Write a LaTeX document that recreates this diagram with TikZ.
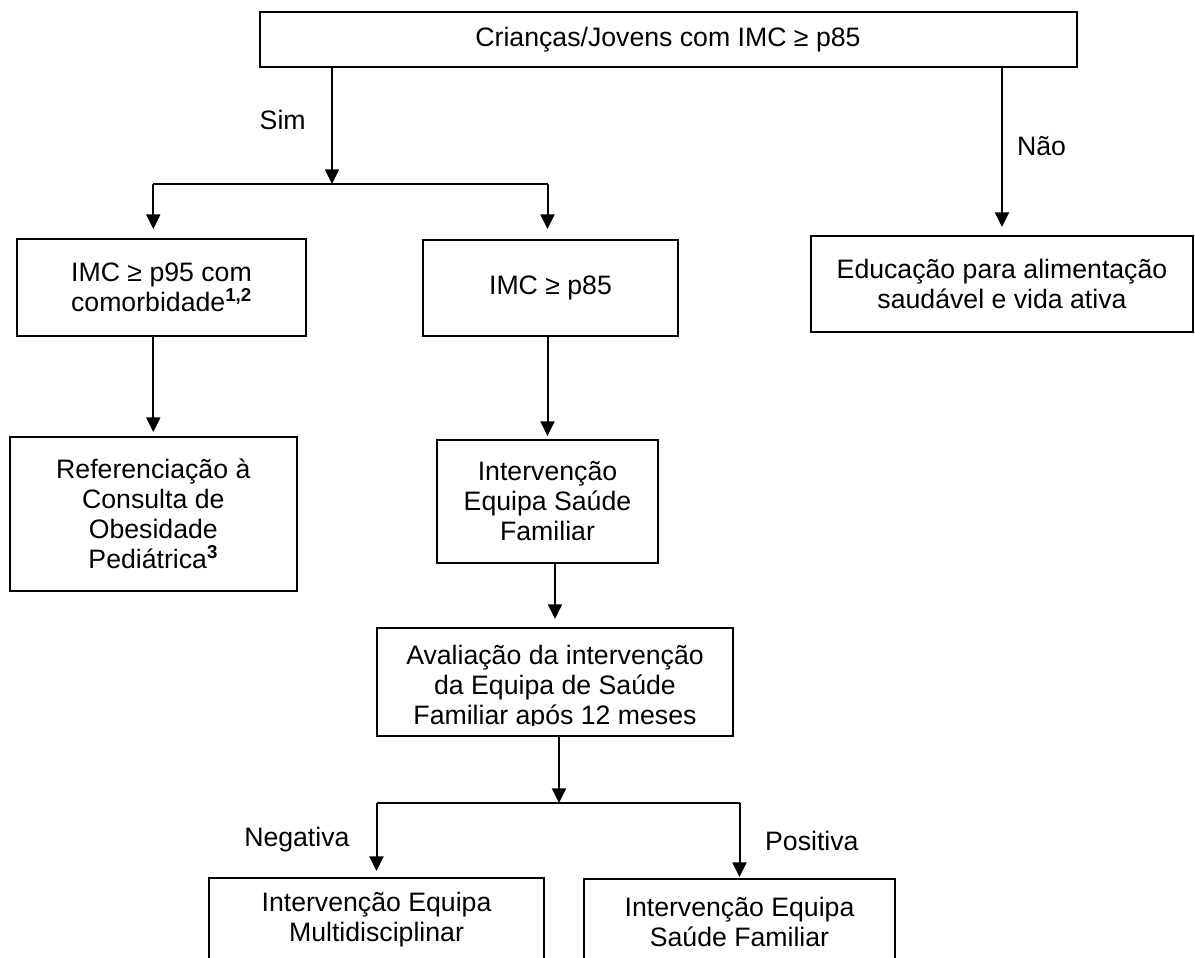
\documentclass[tikz,border=0pt]{standalone}
\usepackage{fontspec}
\setmainfont{Liberation Sans}
\usetikzlibrary{arrows.meta, positioning, calc}
\tikzset{
    flowbox/.style = {draw=black, line width=1.5pt, inner sep=0pt, align=center,
        font=\fontsize{20pt}{22.5pt}\selectfont},
    branch_label/.style = {inner sep=2pt, font=\fontsize{20pt}{22.5pt}\selectfont},
    flowline/.style = {line width=1.5pt},
}

\begin{document}
\begin{tikzpicture}[x=0.75pt, y=-0.75pt, >={Triangle[length=11pt, width=10.5pt]}]
        \path [use as bounding box] (0,0) rectangle (1195,957);
        % boxes
        \node [flowbox, minimum width=612.75pt, minimum height=41.25pt] (top) at (668,39.5) {Crianças/Jovens com IMC ≥ p85};
        \node [flowbox, minimum width=216.75pt, minimum height=72.75pt] (imc95) at (161.5,287.5) {IMC ≥ p95 com\\comorbidade\textsuperscript{\textbf{1,2}}};
        \node [flowbox, minimum width=191.25pt, minimum height=72pt] (imc85) at (550.5,288) {IMC ≥ p85};
        \node [flowbox, minimum width=286.5pt, minimum height=72pt] (educ) at (1002,284) {Educação para alimentação\\saudável e vida ativa};
        \node [flowbox, minimum width=215.25pt, minimum height=115.5pt] (refer) at (153.3,514) {Referenciação à\\Consulta de\\Obesidade\\Pediátrica\textsuperscript{\textbf{3}}};
        \node [flowbox, minimum width=165.75pt, minimum height=92.25pt] (interv) at (547.5,501.5) {Intervenção\\Equipa Saúde\\Familiar};
        \node [flowbox, minimum width=267pt, minimum height=81pt] (aval) at (555,682) {};
        \coordinate (avalclip) at (0,725);
        \begin{scope}
            \clip (aval.north west) rectangle (aval.east |- avalclip);
            \node [flowbox, draw=none] (avaltext) at ([yshift=-4.5pt]aval.center) {Avaliação da intervenção\\da Equipa de Saúde\\Familiar após 12 meses};
        \end{scope}
        \node [flowbox, minimum width=251.25pt, minimum height=63pt] (multi) at (376.5,920) {Intervenção Equipa\\Multidisciplinar};
        \node [flowbox, minimum width=233.25pt, minimum height=64.5pt] (posit) at (739.5,922) {Intervenção Equipa\\Saúde Familiar};

        % forks
        \coordinate (simfork) at (332,184);
        \coordinate (avalfork) at (559,803);

        % connectors
        \draw [flowline, ->] (top.south -| simfork) -- (simfork)
            node [branch_label, pos=0.45, left=17pt] (sim) {Sim};
        \draw [flowline, ->, shorten >=6pt] (top.south -| educ) -- (educ.north)
            node [branch_label, pos=0.47, right=8.5pt] (nao) {Não};
        \draw [flowline] (refer |- simfork) -- (interv |- simfork);
        \draw [flowline, ->, shorten >=6.75pt] (refer |- simfork) -- (refer |- imc95.north);
        \draw [flowline, ->, shorten >=7.5pt] (interv |- simfork) -- (interv |- imc85.north);
        \draw [flowline, ->, shorten >=3pt] (imc95.south -| refer) -- (refer.north);
        \draw [flowline, ->, shorten >=2.25pt] (imc85.south -| interv) -- (interv.north);
        \draw [flowline, ->, shorten >=6pt] (interv.south -| aval) -- (aval.north);
        \draw [flowline, ->] (aval.south -| avalfork) -- (avalfork);
        \draw [flowline] (multi |- avalfork) -- (posit |- avalfork);
        \draw [flowline, ->, shorten >=4.5pt] (multi |- avalfork) -- (multi.north)
            node [branch_label, midway, left=17.5pt] (neg) {Negativa};
        \draw [flowline, ->, shorten >=0.75pt] (posit |- avalfork) -- (posit.north)
            node [branch_label, midway, right=16.5pt] (pos) {Positiva};
\end{tikzpicture}
\end{document}
